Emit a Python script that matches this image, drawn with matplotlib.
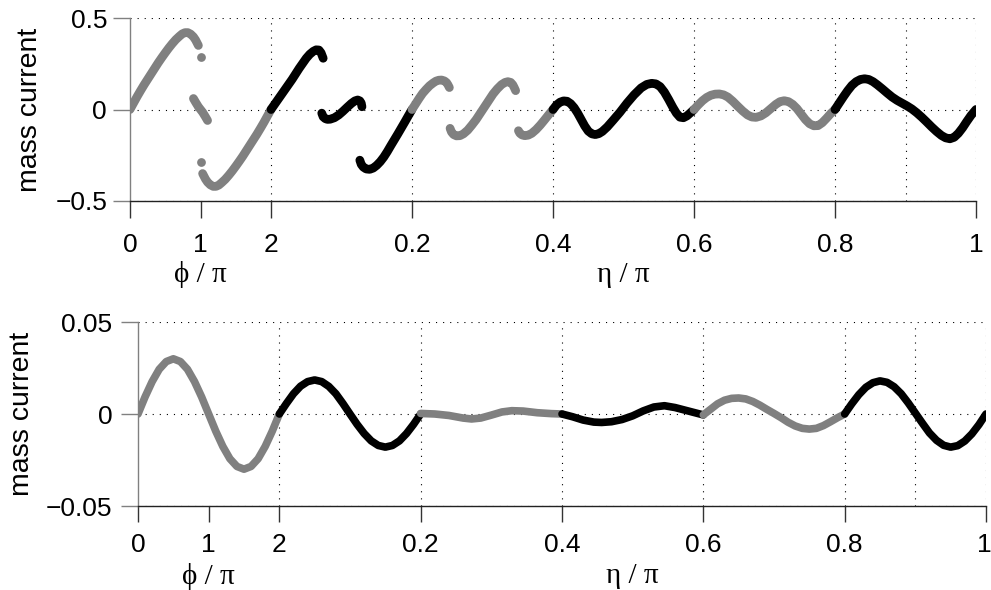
import matplotlib
matplotlib.use("Agg")
import matplotlib.pyplot as plt
import matplotlib.transforms as mtransforms
import numpy as np

plt.rcParams['font.family'] = ['Liberation Sans', 'DejaVu Sans']
plt.rcParams['lines.scale_dashes'] = False

# ---------------- data ----------------
# x tick positions on the composite axis: phi/pi 0..2 then eta/pi 0..1
xtick_pos = [0, 0.1, 0.2, 0.4, 0.6, 0.8, 1.0, 1.2]
xtick_labels = ['0', '1', '2', '0.2', '0.4', '0.6', '0.8', '1']
xgrid_pos = [0.2, 0.4, 0.6, 0.8, 1.0, 1.1, 1.2]

top_yticks = [-0.5, 0, 0.5]
top_ylabels = ['\u22120.5', '0', '0.5']
bot_yticks = [-0.05, 0, 0.05]
bot_ylabels = ['\u22120.05', '0', '0.05']

GRAY = '#808080'
BLACK = '#000000'

# --- top panel, phi part (phi/pi) ---
top_phiA_x = [0, 0.05, 0.1, 0.15, 0.2, 0.25, 0.3, 0.35, 0.4, 0.45, 0.5, 0.55, 0.6, 0.65,
              0.7, 0.74, 0.78, 0.82, 0.86, 0.9, 0.93, 0.95, 0.97]
top_phiA_y = [0, 0.035, 0.07, 0.103, 0.135, 0.165, 0.195, 0.225, 0.255, 0.283, 0.31, 0.336,
              0.36, 0.382, 0.40, 0.413, 0.42, 0.42, 0.412, 0.397, 0.38, 0.365, 0.35]
top_phiM_x = [0.9, 0.93, 0.97, 1.0, 1.03, 1.07, 1.1]
top_phiM_y = [0.06, 0.04, 0.015, 0.0, -0.015, -0.04, -0.06]
top_phiB_x = [1.03, 1.05, 1.07, 1.1, 1.14, 1.18, 1.22, 1.26, 1.3, 1.35, 1.4, 1.45, 1.5,
              1.55, 1.6, 1.65, 1.7, 1.75, 1.8, 1.85, 1.9, 1.95, 2.0]
top_phiB_y = [-0.35, -0.365, -0.38, -0.397, -0.412, -0.42, -0.42, -0.413, -0.40, -0.382,
              -0.36, -0.336, -0.31, -0.283, -0.255, -0.225, -0.195, -0.165, -0.135, -0.103,
              -0.07, -0.035, 0]
top_dots_x = [1.0, 1.0]
top_dots_y = [0.286, -0.286]

# --- top panel, eta part (eta/pi) ---
top_B_x = [0, 0.01, 0.02, 0.03, 0.04, 0.05, 0.055, 0.06, 0.064, 0.068, 0.071, 0.074]
top_B_y = [0, 0.055, 0.11, 0.165, 0.225, 0.28, 0.302, 0.318, 0.326, 0.325, 0.31, 0.28]
top_C_x = [0.072, 0.074, 0.077, 0.08, 0.084, 0.09, 0.096, 0.102, 0.108, 0.114, 0.119,
           0.123, 0.126, 0.128, 0.129]
top_C_y = [-0.02, -0.04, -0.05, -0.054, -0.053, -0.045, -0.03, -0.01, 0.012, 0.033, 0.047,
           0.052, 0.047, 0.035, 0.015]
top_D_x = [0.126, 0.128, 0.131, 0.135, 0.14, 0.145, 0.15, 0.155, 0.16, 0.165, 0.17, 0.175,
           0.18, 0.185, 0.19, 0.195, 0.2]
top_D_y = [-0.277, -0.3, -0.315, -0.325, -0.327, -0.32, -0.305, -0.285, -0.26, -0.23,
           -0.197, -0.165, -0.133, -0.1, -0.067, -0.033, 0]
top_E_x = [0.2, 0.205, 0.21, 0.215, 0.22, 0.225, 0.23, 0.234, 0.238, 0.242, 0.246, 0.249,
           0.251, 0.253]
top_E_y = [0, 0.03, 0.06, 0.088, 0.11, 0.13, 0.145, 0.155, 0.16, 0.161, 0.156, 0.147,
           0.135, 0.12]
top_F_x = [0.254, 0.256, 0.259, 0.263, 0.268, 0.273, 0.279, 0.285, 0.291, 0.297, 0.303,
           0.309, 0.315, 0.321, 0.327, 0.332, 0.336, 0.34, 0.343, 0.345, 0.347]
top_F_y = [-0.103, -0.123, -0.137, -0.144, -0.143, -0.133, -0.113, -0.085, -0.055, -0.02,
           0.015, 0.05, 0.085, 0.113, 0.136, 0.148, 0.152, 0.148, 0.135, 0.12, 0.103]
top_G_x = [0.351, 0.353, 0.356, 0.36, 0.365, 0.37, 0.376, 0.382, 0.388, 0.394, 0.4]
top_G_y = [-0.116, -0.13, -0.139, -0.143, -0.14, -0.13, -0.11, -0.085, -0.057, -0.028, 0]
top_H_x = [0.4, 0.405, 0.41, 0.415, 0.42, 0.425, 0.43, 0.435, 0.44, 0.445, 0.45, 0.455,
           0.46, 0.465, 0.47, 0.477, 0.485, 0.495, 0.505, 0.515, 0.525, 0.533, 0.54, 0.546,
           0.552, 0.558, 0.564, 0.57, 0.575, 0.58, 0.585, 0.59, 0.595, 0.6]
top_H_y = [0, 0.025, 0.04, 0.047, 0.045, 0.032, 0.01, -0.02, -0.055, -0.09, -0.118, -0.133,
           -0.137, -0.132, -0.12, -0.095, -0.06, -0.015, 0.035, 0.08, 0.118, 0.137, 0.143,
           0.14, 0.125, 0.095, 0.055, 0.012, -0.02, -0.042, -0.045, -0.035, -0.018, 0.0]
top_I_x = [0.6, 0.606, 0.612, 0.618, 0.624, 0.63, 0.636, 0.642, 0.648, 0.655, 0.662, 0.669,
           0.676, 0.682, 0.688, 0.695, 0.702, 0.709, 0.716, 0.722, 0.728, 0.734, 0.74,
           0.746, 0.752, 0.758, 0.764, 0.77, 0.776, 0.782, 0.788, 0.794, 0.8]
top_I_y = [0, 0.025, 0.048, 0.066, 0.078, 0.084, 0.085, 0.08, 0.068, 0.045, 0.018, -0.008,
           -0.03, -0.041, -0.043, -0.035, -0.018, 0.005, 0.028, 0.043, 0.048, 0.043, 0.028,
           0.005, -0.025, -0.055, -0.078, -0.089, -0.088, -0.072, -0.048, -0.022, 0.0]
top_J_x = [0.8, 0.806, 0.812, 0.818, 0.824, 0.83, 0.836, 0.842, 0.848, 0.854, 0.86, 0.867,
           0.874, 0.881, 0.888, 0.895, 0.902, 0.909, 0.916, 0.923, 0.93, 0.937, 0.944,
           0.951, 0.957, 0.963, 0.969, 0.975, 0.981, 0.987, 0.993, 1.0]
top_J_y = [0, 0.035, 0.07, 0.103, 0.132, 0.152, 0.164, 0.168, 0.164, 0.152, 0.135, 0.113,
           0.09, 0.068, 0.05, 0.035, 0.02, 0.003, -0.018, -0.042, -0.068, -0.095, -0.12,
           -0.142, -0.155, -0.16, -0.152, -0.13, -0.1, -0.065, -0.032, 0.0]

# --- bottom panel ---
bot_phi_x = [0, 0.1, 0.2, 0.3, 0.4, 0.5, 0.6, 0.7, 0.8, 0.9, 1.0, 1.1, 1.2, 1.3, 1.4, 1.5,
             1.6, 1.7, 1.8, 1.9, 2.0]
bot_phi_y = [0, 0.0093, 0.0176, 0.0243, 0.0285, 0.030, 0.0285, 0.0243, 0.0176, 0.0093, 0,
             -0.0093, -0.0176, -0.0243, -0.0285, -0.030, -0.0285, -0.0243, -0.0176,
             -0.0093, 0]
bot_B_x = [0, 0.01, 0.02, 0.03, 0.04, 0.05, 0.06, 0.07, 0.08, 0.09, 0.1, 0.11, 0.12, 0.13,
           0.14, 0.15, 0.16, 0.17, 0.18, 0.19, 0.2]
bot_B_y = [0, 0.0057, 0.011, 0.0151, 0.0176, 0.0185, 0.0176, 0.015, 0.011, 0.0057, 0,
           -0.0056, -0.0106, -0.0146, -0.0171, -0.018, -0.0171, -0.0146, -0.0106, -0.0056, 0]
bot_C_x = [0.2, 0.22, 0.24, 0.26, 0.272, 0.285, 0.3, 0.315, 0.329, 0.345, 0.365, 0.385, 0.4]
bot_C_y = [0.0003, 0.0, -0.0008, -0.0022, -0.0027, -0.0022, -0.0006, 0.0011, 0.0018,
           0.0016, 0.0007, 0.0002, 0.0]
bot_D_x = [0.4, 0.415, 0.43, 0.445, 0.456, 0.47, 0.485, 0.5, 0.515, 0.53, 0.545, 0.56,
           0.575, 0.59, 0.6]
bot_D_y = [0, -0.0015, -0.0033, -0.0044, -0.0046, -0.0042, -0.003, -0.001, 0.0017, 0.0038,
           0.0045, 0.0035, 0.002, 0.0005, -0.0005]
bot_E_x = [0.6, 0.61, 0.62, 0.63, 0.64, 0.65, 0.66, 0.67, 0.68, 0.69, 0.7, 0.71, 0.72,
           0.73, 0.74, 0.75, 0.76, 0.77, 0.78, 0.79, 0.8]
bot_E_y = [-0.0005, 0.0025, 0.0055, 0.0075, 0.0085, 0.0087, 0.0082, 0.0068, 0.0048,
           0.0025, 0.0003, -0.002, -0.0045, -0.0065, -0.0078, -0.0082, -0.0078, -0.0063,
           -0.0042, -0.002, 0.0]
bot_F_x = [0.8, 0.81, 0.82, 0.83, 0.84, 0.85, 0.86, 0.87, 0.88, 0.89, 0.9, 0.91, 0.92,
           0.93, 0.94, 0.95, 0.96, 0.97, 0.98, 0.99, 1.0]
bot_F_y = [0, 0.0055, 0.0105, 0.0145, 0.017, 0.018, 0.0172, 0.0148, 0.011, 0.006, 0.0005,
           -0.005, -0.0103, -0.0143, -0.017, -0.018, -0.0172, -0.0147, -0.0108, -0.0058, 0.0]


def phi_u(v):
    return np.asarray(v, dtype=float) * 0.1


def eta_u(v):
    return 0.2 + np.asarray(v, dtype=float)


top_segments = [
    (phi_u(top_phiA_x), top_phiA_y, GRAY),
    (phi_u(top_phiM_x), top_phiM_y, GRAY),
    (phi_u(top_phiB_x), top_phiB_y, GRAY),
    (eta_u(top_B_x), top_B_y, BLACK),
    (eta_u(top_C_x), top_C_y, BLACK),
    (eta_u(top_D_x), top_D_y, BLACK),
    (eta_u(top_E_x), top_E_y, GRAY),
    (eta_u(top_F_x), top_F_y, GRAY),
    (eta_u(top_G_x), top_G_y, GRAY),
    (eta_u(top_H_x), top_H_y, BLACK),
    (eta_u(top_I_x), top_I_y, GRAY),
    (eta_u(top_J_x), top_J_y, BLACK),
]
bot_segments = [
    (phi_u(bot_phi_x), bot_phi_y, GRAY),
    (eta_u(bot_B_x), bot_B_y, BLACK),
    (eta_u(bot_C_x), bot_C_y, GRAY),
    (eta_u(bot_D_x), bot_D_y, BLACK),
    (eta_u(bot_E_x), bot_E_y, GRAY),
    (eta_u(bot_F_x), bot_F_y, BLACK),
]

W, H = 991, 590
fig = plt.figure(figsize=(W / 100, H / 100), dpi=100)
ax1 = fig.add_axes([130 / W, 1 - 201 / H, 846 / W, 183 / H])
ax2 = fig.add_axes([138 / W, 1 - 506 / H, 848 / W, 184 / H])

GREEK_FONT = ['Liberation Serif', 'DejaVu Serif']


def style(ax, ylim, yt, ytl, xtpad, xtlen, ytpad, ytlen, ylab_x, xlab_y):
    ax.set_xlim(0, 1.2)
    ax.set_ylim(*ylim)
    for s in ['top', 'right']:
        ax.spines[s].set_visible(False)
    ax.spines['left'].set_color(GRAY)
    ax.spines['left'].set_linewidth(1.0)
    ax.spines['bottom'].set_color('#222222')
    ax.spines['bottom'].set_linewidth(1.0)
    ax.xaxis.remove_overlapping_locs = False
    ax.set_xticks(xtick_pos)
    ax.set_xticklabels(xtick_labels)
    ax.set_xticks(xgrid_pos, minor=True)
    ax.set_yticks(yt)
    ax.set_yticklabels(ytl)
    ax.tick_params(axis='x', which='major', direction='out', length=xtlen, width=1.0,
                   color='#333333', pad=xtpad, labelsize=19)
    ax.tick_params(axis='x', which='minor', length=0)
    ax.tick_params(axis='y', direction='out', length=ytlen, width=1.0,
                   color=GRAY, pad=ytpad, labelsize=19)
    ax.grid(False)
    ax.xaxis.grid(True, which='minor', linestyle=(0, (0.8, 4.3)), color='black', linewidth=0.8)
    ax.yaxis.grid(True, which='major', linestyle=(0, (0.8, 4.3)), color='black', linewidth=0.8)
    ax.set_axisbelow(True)
    ax.set_ylabel('mass current', fontsize=20.5, va='center', ha='center')
    ax.yaxis.set_label_coords(ylab_x, 0.5)
    tr = mtransforms.blended_transform_factory(ax.transData, ax.transAxes)
    ax.text(phi_u(1.0), xlab_y, '\u03d5 / \u03c0', transform=tr, ha='center', va='center',
            fontsize=21, family=GREEK_FONT)
    ax.text(eta_u(0.5), xlab_y, '\u03b7 / \u03c0', transform=tr, ha='center', va='center',
            fontsize=21, family=GREEK_FONT)


style(ax1, (-0.5, 0.5), top_yticks, top_ylabels, 10.5, 12.2, 4.3, 12.2, -0.118, -0.404)
style(ax2, (-0.05, 0.05), bot_yticks, bot_ylabels, 8.5, 11.3, 6.0, 12.5, -0.137, -0.383)

# keep the last tick label of the lower panel inside the canvas
last_lbl = ax2.get_xticklabels()[-1]
last_lbl.set_horizontalalignment('right')
last_lbl.set_transform(last_lbl.get_transform()
                       + mtransforms.ScaledTranslation(6 / 100, 0, fig.dpi_scale_trans))

for x, y, c in top_segments:
    ax1.plot(x, y, color=c, linewidth=6.3, solid_capstyle='round', solid_joinstyle='round',
             zorder=3)
ax1.plot(phi_u(top_dots_x), top_dots_y, 'o', color=GRAY, markersize=6.3, markeredgewidth=0,
         zorder=3)

for x, y, c in bot_segments:
    ax2.plot(x, y, color=c, linewidth=5.5, solid_capstyle='round', solid_joinstyle='round',
             zorder=3)

fig.savefig('out.png', dpi=100)
